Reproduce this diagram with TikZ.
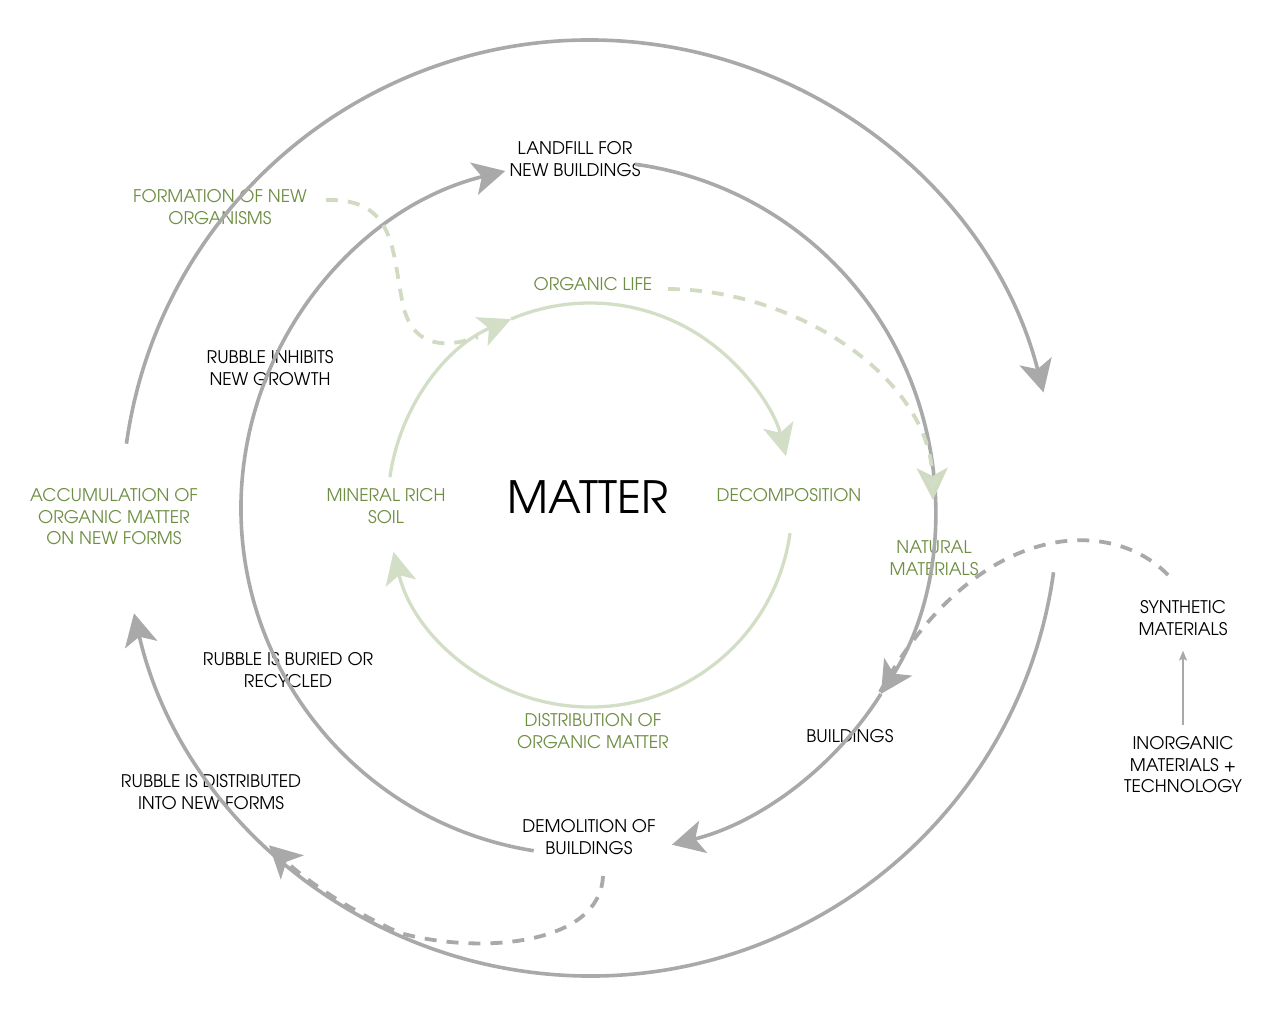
\documentclass[tikz,border=0pt]{standalone}
\usepackage{fontspec}
\setmainfont{TeX Gyre Adventor}
\usetikzlibrary{arrows.meta,calc}
\definecolor{lgray}{HTML}{A9A9A9}
\definecolor{lgreen}{HTML}{D3DEC6}
\definecolor{dgreen}{HTML}{D0DBC2}
\definecolor{tgreen}{HTML}{6E8E42}
\begin{document}
\begin{tikzpicture}[x=1pt,y=-1pt,
  font=\fontsize{17.4}{21.5}\selectfont,
  gline/.style={draw=lgray, line width=3.6pt},
  grn/.style={draw=lgreen, line width=3.3pt},
  gdash/.style={draw=lgray, line width=3.8pt, dash pattern=on 12pt off 10pt},
  grdash/.style={draw=dgreen, line width=3.8pt, dash pattern=on 12pt off 10pt},
  gtip/.style={-{Stealth[length=32pt,width=33pt,inset=8pt,fill=lgray]}},
  grtip/.style={-{Stealth[length=32pt,width=31pt,inset=8pt,fill=lgreen]}},
  lbl/.style={align=center, text=black, inner sep=0pt},
  glbl/.style={lbl, text=tgreen}]
\useasboundingbox (0,0) rectangle (1280,1009);

% ---------- labels ----------
\node[lbl, font=\fontsize{44.5}{48}\selectfont] (matter) at (588,497) {MATTER};
\node[glbl] (decomp) at (789,495) {DECOMPOSITION};
\node[glbl] (soil) at (386,506) {MINERAL RICH\\SOIL};
\node[glbl] (orglife) at (593,284) {ORGANIC LIFE};
\node[glbl] (distr) at (593,731) {DISTRIBUTION OF\\ORGANIC MATTER};
\node[lbl] (landfill) at (575,159) {LANDFILL FOR\\NEW BUILDINGS};
\node[glbl] (formation) at (220,207) {FORMATION OF NEW\\ORGANISMS};
\node[lbl] (inhibit) at (270,368) {RUBBLE INHIBITS\\NEW GROWTH};
\node[glbl] (accum) at (114,517) {ACCUMULATION OF\\ORGANIC MATTER\\ON NEW FORMS};
\node[lbl] (buried) at (288,670) {RUBBLE IS BURIED OR\\RECYCLED};
\node[lbl] (distrib) at (211,792) {RUBBLE IS DISTRIBUTED\\INTO NEW FORMS};
\node[lbl] (demol) at (589,837) {DEMOLITION OF\\BUILDINGS};
\node[lbl] (build) at (850,736) {BUILDINGS};
\node[glbl] (natural) at (934,558) {NATURAL\\MATERIALS};
\node[lbl] (synth) at (1183,618) {SYNTHETIC\\MATERIALS};
\node[lbl] (inorg) at (1183,765) {INORGANIC\\MATERIALS +\\TECHNOLOGY};

% ---------- inner green cycle ----------
\coordinate (gc) at (590,505);
\draw[grn, grtip] ([shift={(gc)}]187.9:202) arc[start angle=187.9, end angle=247, radius=202];
\draw[grn, grtip] ([shift={(gc)}]247:202) arc[start angle=247, end angle=346, radius=202];
\draw[grn, grtip] ([shift={(gc)}]8:202) arc[start angle=8, end angle=166.6, radius=202];

% ---------- middle gray cycle ----------
\coordinate (mc) at (588,508);
\draw[gline, gtip] ([shift={(mc)}]99:347) arc[start angle=99, end angle=256.2, radius=347];
\draw[gline, gtip] ([shift={(mc)}]277.8:347) arc[start angle=277.8, end angle=392.4, radius=347];
\draw[gline, gtip] ([shift={(mc)}]32.4:347) arc[start angle=32.4, end angle=76, radius=347];

% ---------- outer gray cycle ----------
\coordinate (oc) at (590,508);
\draw[gline, gtip] ([shift={(oc)}]187.9:468) arc[start angle=187.9, end angle=345.7, radius=468];
\draw[gline, gtip] ([shift={(oc)}]7.9:468) arc[start angle=7.9, end angle=167, radius=468];

% ---------- dashed connectors ----------
\coordinate (fs) at (326,200);
\coordinate (fe) at (478,337);
\draw[grdash] (fs) .. controls (395,198) and (392,250) .. (402,300)
   .. controls (410,345) and (440,350) .. (fe);
\coordinate (os) at (668,289);
\coordinate (oe) at (933,500);
\draw[grdash, grtip] (os) .. controls (800,290) and (930,380) .. (oe);
\coordinate (ss) at (1168,575);
\coordinate (se) at (880,692);
\draw[gdash] (ss) .. controls (1110,515) and (975,520) .. (se);
\coordinate (ds) at (603,876);
\coordinate (dm) at (400,933);
\draw[gdash, gtip] (ds) .. controls (600,945) and (480,955) .. (dm)
   arc[start angle=114.1, end angle=133.5, radius=468];

% ---------- thin arrow ----------
\draw[draw=lgray, line width=1.3pt, -{Stealth[length=10pt,width=8pt,inset=2pt]}, shorten <=12pt, shorten >=15pt] (inorg.north) -- (synth.south);
\end{tikzpicture}
\end{document}
